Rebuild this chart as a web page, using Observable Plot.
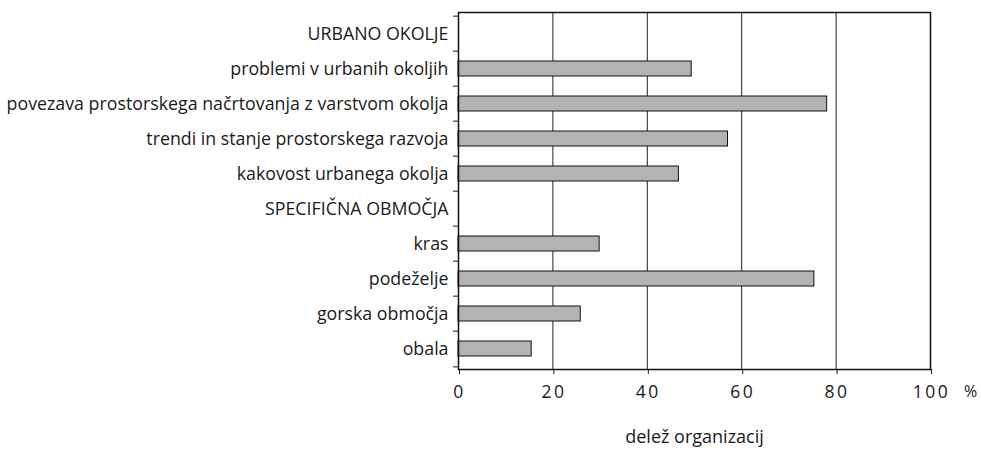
<!DOCTYPE html>
<html><head><meta charset="utf-8">
<script src="https://cdn.jsdelivr.net/npm/d3@7"></script>
<script src="https://cdn.jsdelivr.net/npm/@observablehq/plot@0.6"></script>
<style>
body{margin:0;background:#fff;}
g[aria-label="x-axis tick label"] text{letter-spacing:2.5px;}
</style>
</head><body><div id="chart"></div>
<script>
const categories = [
  "URBANO OKOLJE",
  "problemi v urbanih okoljih",
  "povezava prostorskega načrtovanja z varstvom okolja",
  "trendi in stanje prostorskega razvoja",
  "kakovost urbanega okolja",
  "SPECIFIČNA OBMOČJA",
  "kras",
  "podeželje",
  "gorska območja",
  "obala"
];
const values = [null, 49.4, 78.1, 57.1, 46.7, null, 29.9, 75.4, 25.9, 15.5];
const xTicks = [0, 20, 40, 60, 80, 100];
const xLabel = "delež organizacij";
const unit = "%";

const data = categories.map((c, i) => ({category: c, value: values[i]})).filter(d => d.value != null);
const mTop = 12, mBottom = 84, H = 453;
const step = (H - mTop - mBottom) / categories.length;

const chart = Plot.plot({
  width: 981, height: H,
  marginLeft: 458, marginRight: 51, marginTop: mTop, marginBottom: mBottom,
  style: {fontFamily: "'Open Sans', sans-serif", fontSize: "17px", color: "#1a1a1a", background: "white"},
  x: {domain: [0, 100]},
  y: {domain: categories, padding: 0},
  marks: [
    Plot.ruleX(xTicks.slice(1, -1), {stroke: "#222", strokeWidth: 1}),
    Plot.barX(data, {y: "category", x: "value", fill: "#b3b3b3", stroke: "#111", strokeWidth: 1, insetTop: 10, insetBottom: 10}),
    Plot.frame({stroke: "#111", strokeWidth: 1.5}),
    Plot.axisY({tickSize: 0, tickPadding: 10, fontSize: 17.8, label: null}),
    Plot.axisY({tickSize: 5, text: null, dy: -step / 2, label: null}),
    Plot.axisY({ticks: [categories[categories.length - 1]], tickSize: 5, text: null, dy: step / 2, label: null}),
    Plot.axisX({ticks: xTicks, tickSize: 5, tickPadding: 11, fontSize: 17.5, label: null, dx: 1}),
    Plot.text([unit], {frameAnchor: "bottom-right", dx: 40, dy: 27, fontSize: 16, textAnchor: "middle"}),
    Plot.text([xLabel], {frameAnchor: "bottom", dy: 73, fontSize: 18})
  ]
});
document.getElementById("chart").append(chart);
</script>
</body></html>
